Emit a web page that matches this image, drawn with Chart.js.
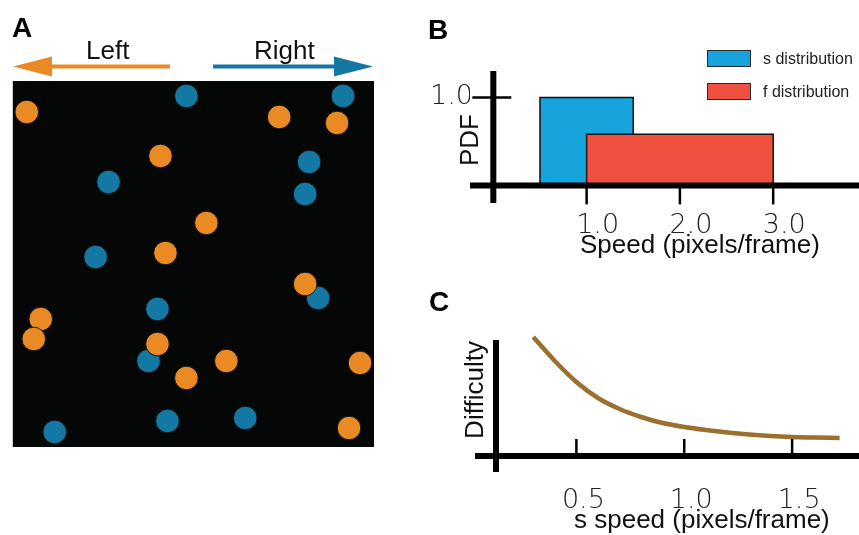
<!DOCTYPE html>
<html>
<head>
<meta charset="utf-8">
<script src="https://cdn.jsdelivr.net/npm/chart.js@4.4.1/dist/chart.umd.min.js"></script>
<style>
body { margin:0; width:859px; height:535px; background:#fff; position:relative; overflow:hidden; font-family:"Liberation Sans", Arial, sans-serif; }
canvas { position:absolute; }
.t { position:absolute; white-space:nowrap; color:#111; font-size:26px; line-height:26px; }
.panel { font-weight:bold; font-size:28px; line-height:28px; color:#000; }
.rot { transform: translate(-50%,-50%) rotate(-90deg); }
.leg { position:absolute; white-space:nowrap; font-size:16px; line-height:18px; color:#222; }
.box { position:absolute; width:42px; height:15px; border:1.5px solid #2a2a2a; }
</style>
</head>
<body>
<canvas id="dots" width="400" height="470" style="left:0;top:0"></canvas>
<canvas id="pdf" width="439" height="270" style="left:420px;top:0"></canvas>
<canvas id="diff" width="439" height="255" style="left:420px;top:280px"></canvas>

<div class="t panel" style="left:12px;top:14px">A</div>
<div class="t panel" style="left:428px;top:16px">B</div>
<div class="t panel" style="left:429px;top:288px">C</div>

<div class="t" style="left:86px;top:37px">Left</div>
<div class="t" style="left:254px;top:37px">Right</div>

<div class="t rot" style="left:469px;top:140px">PDF</div>
<div class="t" style="left:580px;top:231px">Speed (pixels/frame)</div>
<div class="t rot" style="left:474px;top:390px">Difficulty</div>
<div class="t" style="left:574px;top:506px">s speed (pixels/frame)</div>

<div id="legend"></div>

<script>
// panel A: dot positions inside the black field (x right, y down)
const orangeX = [14, 267, 325, 148, 194, 153, 293, 28, 21, 145, 174, 214, 348, 337];
const orangeY = [31, 36, 42, 75, 142, 172, 203, 238, 258, 263, 297, 280, 282, 347];
const blueX = [174, 331, 297, 96, 293, 83, 306, 145, 136, 42, 155, 233];
const blueY = [15, 15, 81, 101, 113, 176, 217, 228, 280, 351, 340, 337];

// panel B: uniform speed distributions
const distLabels = ['s distribution', 'f distribution'];
const distRanges = [[0.5, 1.5], [1.0, 3.0]];
const distDensity = [1.0, 0.58];
const distColors = ['#17a3dc', '#ef5040'];
const xTicksB = [1, 2, 3];
const yTicksB = [1];

// panel C: difficulty vs s speed
const sSpeed = [0.3, 0.4, 0.5, 0.6, 0.7, 0.8, 0.9, 1.0, 1.1, 1.2, 1.3, 1.4, 1.5, 1.6, 1.72];
const difficulty = [1.19, 0.95, 0.74, 0.58, 0.47, 0.39, 0.33, 0.29, 0.26, 0.235, 0.215, 0.2, 0.19, 0.185, 0.18];
const xTicksC = [0.5, 1.0, 1.5];

const tickFont = {family: 'DejaVu Sans', size: 27, weight: 200};

function line(ctx, x1, y1, x2, y2) {
    ctx.beginPath();
    ctx.moveTo(x1, y1);
    ctx.lineTo(x2, y2);
    ctx.stroke();
}

function arrow(ctx, x1, x2, y, color, headLen) {
    // shaft from x1 to x2, head pointing towards x2
    const dir = x2 > x1 ? 1 : -1;
    ctx.strokeStyle = color;
    ctx.fillStyle = color;
    ctx.lineWidth = 4;
    line(ctx, x1, y, x2 - dir * headLen, y);
    ctx.beginPath();
    ctx.moveTo(x2, y);
    ctx.lineTo(x2 - dir * headLen, y - 10);
    ctx.lineTo(x2 - dir * headLen, y + 10);
    ctx.closePath();
    ctx.fill();
}

function toPoints(xs, ys) {
    return xs.map((v, i) => ({x: v, y: ys[i]}));
}

// wider spacing for the thin tick numbers
const spacing = {
    id: 'spacing',
    beforeInit(chart) { chart.ctx.letterSpacing = '3px'; }
};

// ---- panel A ----
const fieldPlugin = {
    id: 'field',
    beforeDatasetsDraw(chart) {
        const {ctx, chartArea: a} = chart;
        ctx.save();
        ctx.fillStyle = '#050706';
        ctx.fillRect(a.left, a.top, a.right - a.left, a.bottom - a.top);
        ctx.restore();
    },
    afterDraw(chart) {
        const ctx = chart.ctx;
        ctx.save();
        arrow(ctx, 170, 13, 66.5, '#ea8a25', 39);
        arrow(ctx, 213, 373, 66.5, '#1478a5', 39);
        ctx.restore();
    }
};

function dotSet(label, xs, ys, color, order) {
    return {
        label: label,
        data: toPoints(xs, ys),
        backgroundColor: color,
        borderColor: '#151515',
        borderWidth: 1,
        pointRadius: 11.8,
        pointHoverRadius: 11.8,
        order: order,
        clip: false
    };
}

new Chart(document.getElementById('dots'), {
    type: 'scatter',
    data: {
        datasets: [
            dotSet('left', orangeX, orangeY, '#ea8a25', 0),
            dotSet('right', blueX, blueY, '#1478a5', 1)
        ]
    },
    options: {
        responsive: false,
        animation: false,
        layout: {padding: {left: 12, top: 81, right: 26, bottom: 23}},
        plugins: {legend: {display: false}, tooltip: {enabled: false}},
        scales: {
            x: {display: false, min: 0, max: 362},
            y: {display: false, min: 0, max: 366, reverse: true}
        }
    },
    plugins: [fieldPlugin]
});

// ---- panel B ----
const axesB = {
    id: 'axesB',
    afterDatasetsDraw(chart) {
        const {ctx, chartArea: a, scales: {x, y}} = chart;
        const x0 = x.getPixelForValue(0), y0 = y.getPixelForValue(0);
        ctx.save();
        ctx.strokeStyle = '#000';
        ctx.lineWidth = 6;
        line(ctx, a.left, y0, a.right, y0);
        line(ctx, x0, a.top, x0, a.bottom);
        ctx.lineWidth = 2.5;
        yTicksB.forEach(v => { const p = y.getPixelForValue(v); line(ctx, x0 - 21, p, x0 + 18, p); });
        xTicksB.forEach(v => { const p = x.getPixelForValue(v); line(ctx, p, y0, p, y0 + 19); });
        ctx.restore();
    }
};

const distSets = distLabels.map((lab, i) => ({
    label: lab,
    data: [
        {x: distRanges[i][0], y: 0},
        {x: distRanges[i][0], y: distDensity[i]},
        {x: distRanges[i][1], y: distDensity[i]},
        {x: distRanges[i][1], y: 0}
    ],
    showLine: true,
    fill: 'origin',
    backgroundColor: distColors[i],
    borderColor: '#111',
    borderWidth: 1.5,
    pointRadius: 0,
    order: distLabels.length - i
}));

new Chart(document.getElementById('pdf'), {
    type: 'scatter',
    data: {datasets: distSets},
    options: {
        responsive: false,
        animation: false,
        layout: {padding: {left: 0, top: 71, right: 0, bottom: 0}},
        plugins: {legend: {display: false}, tooltip: {enabled: false}},
        scales: {
            x: {
                min: -0.25, max: 3.92,
                grid: {display: false, drawTicks: false}, border: {display: false},
                afterFit: s => { s.height = 67; },
                afterBuildTicks: s => { s.ticks = xTicksB.map(v => ({value: v})); },
                ticks: {font: tickFont, color: '#222', padding: 7, labelOffset: 11, maxRotation: 0, autoSkip: false,
                        callback: v => Number(v).toFixed(1)}
            },
            y: {
                min: -0.2, max: 1.3,
                grid: {display: false, drawTicks: false}, border: {display: false},
                afterFit: s => { s.width = 50; },
                afterBuildTicks: s => { s.ticks = yTicksB.map(v => ({value: v})); },
                ticks: {font: tickFont, color: '#222', padding: -3, callback: v => Number(v).toFixed(1)}
            }
        }
    },
    plugins: [spacing, axesB]
});

// html legend for panel B, built from the datasets
const legend = document.getElementById('legend');
distLabels.forEach((lab, i) => {
    const top = 50 + i * 33;
    legend.insertAdjacentHTML('beforeend',
        '<div class="box" style="left:707px;top:' + top + 'px;background:' + distColors[i] + '"></div>' +
        '<div class="leg" style="left:763px;top:' + top + 'px">' + lab + '</div>');
});

// ---- panel C ----
const axesC = {
    id: 'axesC',
    afterDatasetsDraw(chart) {
        const {ctx, chartArea: a, scales: {x, y}} = chart;
        const y0 = y.getPixelForValue(0);
        const xa = a.left + 21;
        ctx.save();
        ctx.strokeStyle = '#000';
        ctx.lineWidth = 6;
        line(ctx, a.left, y0, a.right, y0);
        line(ctx, xa, a.top + 4, xa, a.bottom);
        ctx.lineWidth = 2.5;
        xTicksC.forEach(v => { const p = x.getPixelForValue(v); line(ctx, p, y0, p, y0 - 17); });
        ctx.restore();
    }
};

new Chart(document.getElementById('diff'), {
    type: 'scatter',
    data: {
        datasets: [{
            label: 'Difficulty',
            data: toPoints(sSpeed, difficulty),
            showLine: true,
            borderColor: '#9b6f2f',
            borderWidth: 4.5,
            pointRadius: 0,
            cubicInterpolationMode: 'monotone',
            clip: false
        }]
    },
    options: {
        responsive: false,
        animation: false,
        layout: {padding: {left: 55, top: 56, right: 0, bottom: 0}},
        plugins: {legend: {display: false}, tooltip: {enabled: false}},
        scales: {
            x: {
                min: 0.03, max: 1.81,
                grid: {display: false, drawTicks: false}, border: {display: false},
                afterFit: s => { s.height = 63; },
                afterBuildTicks: s => { s.ticks = xTicksC.map(v => ({value: v})); },
                ticks: {font: tickFont, color: '#222', padding: 13, labelOffset: 7, maxRotation: 0, autoSkip: false,
                        callback: v => Number(v).toFixed(1)}
            },
            y: {display: false, min: -0.16, max: 1.2}
        }
    },
    plugins: [spacing, axesC]
});
</script>
</body>
</html>
